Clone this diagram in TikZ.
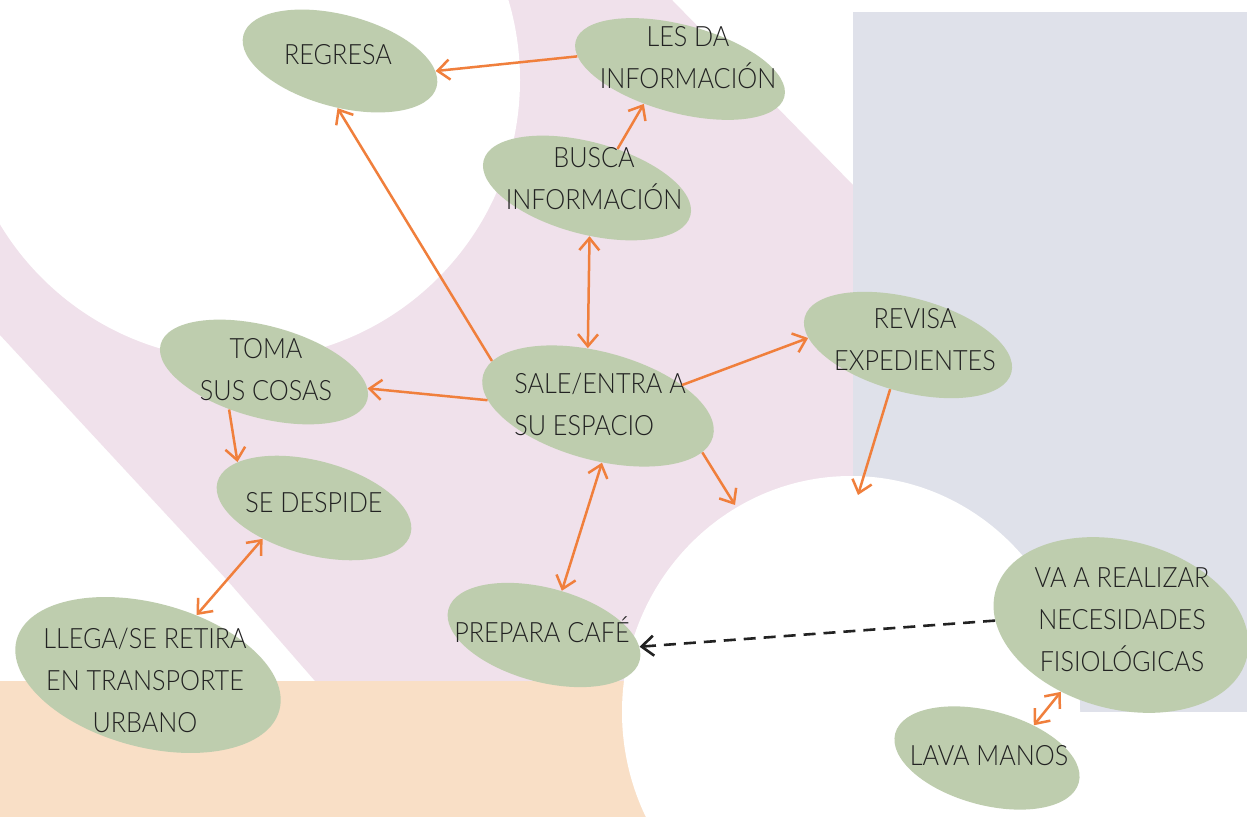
\documentclass[tikz,border=0pt]{standalone}
\usepackage{fontspec}
\setmainfont{Lato}[UprightFont=* Light,FakeStretch=0.9]
\usetikzlibrary{arrows.meta,shapes.geometric}
\definecolor{leaf}{RGB}{190,205,174}
\definecolor{blush}{RGB}{240,225,235}
\definecolor{slate}{RGB}{223,225,234}
\definecolor{peach}{RGB}{249,223,198}
\definecolor{flecha}{RGB}{240,127,60}
\definecolor{tinta}{RGB}{34,34,34}

\begin{document}
\begin{tikzpicture}[x=0.5pt,y=-0.5pt,
bub/.style={ellipse,fill=leaf,inner sep=0pt,rotate=-15},
txt/.style={align=center,text=tinta,font=\fontsize{14pt}{21pt}\selectfont,inner sep=0pt},
arr/.style={-{Straight Barb[length=6pt,width=10pt]},draw=flecha,line width=1.25pt},
darr/.style={{Straight Barb[length=6pt,width=10pt]}-{Straight Barb[length=6pt,width=10pt]},draw=flecha,line width=1.25pt},
punteada/.style={-{Straight Barb[length=6pt,width=10pt]},draw=tinta,line width=1.3pt,dash pattern=on 6pt off 4pt}
]
\useasboundingbox (0,0) rectangle (1247,817);
% fondo
\begin{scope}
\clip (0,0) rectangle (1247,817);
\fill[white] (0,0) rectangle (1247,817);
\fill[blush] (0,0) -- (672,0) -- (853,185) -- (853,681) -- (315,681) -- (227,580) -- (0,335) -- cycle;
\fill[slate] (853,12) rectangle (1247,712);
\fill[peach] (0,681) rectangle (700,817);
\fill[white] (240,80) circle[radius=280];
\fill[white] (851,712) ellipse[x radius=229,y radius=236];
\end{scope}

% elipses
\node[bub,minimum width=100pt,minimum height=46pt] (regresa) at (340,61) {};
\node[bub,minimum width=108pt,minimum height=44pt] (lesda) at (680,69) {};
\node[bub,minimum width=107pt,minimum height=46pt] (busca) at (587,188) {};
\node[bub,minimum width=107pt,minimum height=46pt] (toma) at (264,372) {};
\node[bub,minimum width=119pt,minimum height=54pt] (sale) at (598,406) {};
\node[bub,minimum width=107pt,minimum height=47pt] (revisa) at (908,345) {};
\node[bub,minimum width=100pt,minimum height=47pt] (despide) at (314,508) {};
\node[bub,minimum width=136pt,minimum height=72pt] (llega) at (148,675) {};
\node[bub,minimum width=99pt,minimum height=47pt] (prepara) at (544,635) {};
\node[bub,minimum width=130pt,minimum height=84pt] (vaa) at (1121,625) {};
\node[bub,minimum width=95pt,minimum height=47pt] (lava) at (987,758) {};

% textos
\node[txt] (regresa-t) at (338,55) {REGRESA};
\node[txt] (lesda-t) at (688,58) {LES DA\\INFORMACIÓN};
\node[txt] (busca-t) at (594,179) {BUSCA\\INFORMACIÓN};
\node[txt] (toma-t) at (266,370) {TOMA\\SUS COSAS};
\node[txt,align=left] (sale-t) at (600,404) {SALE/ENTRA A\\SU ESPACIO};
\node[txt] (revisa-t) at (915,340) {REVISA\\EXPEDIENTES};
\node[txt] (despide-t) at (314,503) {SE DESPIDE};
\node[txt] (llega-t) at (145,680) {LLEGA/SE RETIRA\\EN TRANSPORTE\\URBANO};
\node[txt] (prepara-t) at (542,630) {PREPARA CAFÉ};
\node[txt] (vaa-t) at (1122,620) {VA A REALIZAR\\NECESIDADES\\FISIOLÓGICAS};
\node[txt] (lava-t) at (989,756) {LAVA MANOS};

\coordinate (circA) at (735,505);
\coordinate (circB) at (858,495);

% flechas
\foreach \a/\b in {lesda.188/regresa.9,sale.172/regresa.282,busca.67/lesda.239,sale.192/toma.6,sale.29/revisa.191,sale.351/circA,revisa.263/circB,toma.242/despide.164}
\draw[arr] (\a) -- (\b);
\foreach \a/\b in {busca.288/sale.115,despide.226/llega.66,sale.289/prepara.83,vaa.243/lava.50}
\draw[darr] (\a) -- (\b);
\draw[punteada] (vaa.193) -- (prepara.8);
\end{tikzpicture}
\end{document}
